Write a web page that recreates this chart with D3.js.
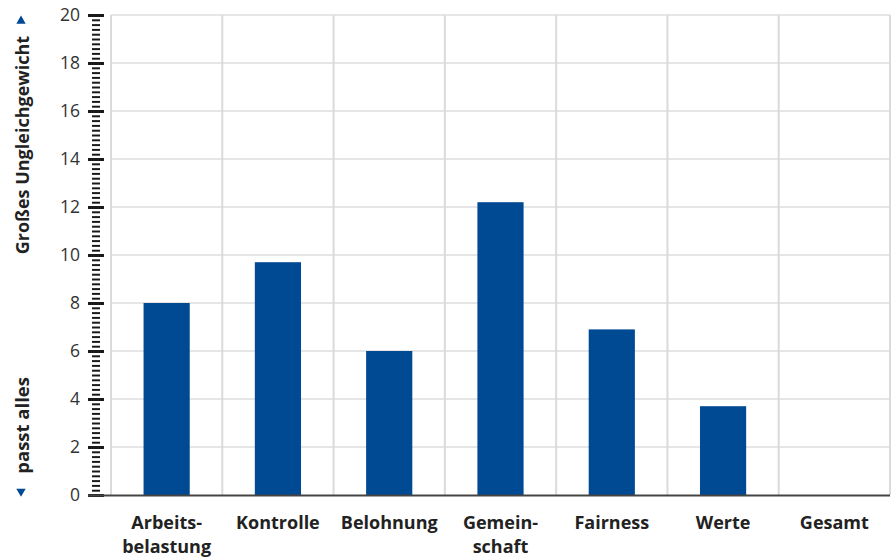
<!DOCTYPE html>
<html><head><meta charset="utf-8">
<script src="https://cdn.jsdelivr.net/npm/d3@7"></script>
<style>body{margin:0;background:#fff}svg{display:block}text{font-family:"Open Sans",sans-serif}</style>
</head><body>
<svg id="c" width="895" height="560"></svg>
<script>
const categories = [["Arbeits-","belastung"],["Kontrolle"],["Belohnung"],["Gemein-","schaft"],["Fairness"],["Werte"],["Gesamt"]];
const values = [8.0, 9.7, 6.0, 12.2, 6.9, 3.7, null];
const yTicks = [0,2,4,6,8,10,12,14,16,18,20];
const yTop = "Großes Ungleichgewicht";
const yBottom = "passt alles";

const svg = d3.select("#c");
const L = 111, R = 890, T = 15, B = 495;
const x = d3.scaleBand().domain(d3.range(categories.length)).range([L, R]).paddingInner(0).paddingOuter(0);
const y = d3.scaleLinear().domain([0, 20]).range([B, T]);

// grid
svg.append("g").selectAll("line").data(yTicks.filter(d=>d>0)).join("line")
  .attr("x1", L).attr("x2", R).attr("y1", d=>y(d)).attr("y2", d=>y(d))
  .attr("stroke", "#dedede").attr("stroke-width", 1.5);
svg.append("g").selectAll("line").data(d3.range(categories.length + 1)).join("line")
  .attr("x1", i => i < categories.length ? x(i) : R).attr("x2", i => i < categories.length ? x(i) : R)
  .attr("y1", T).attr("y2", B)
  .attr("stroke", "#dadada").attr("stroke-width", 2);

// bars
const bw = x.bandwidth() * 0.415;
svg.append("g").selectAll("rect").data(values.map((v,i)=>({v,i})).filter(d=>d.v!=null)).join("rect")
  .attr("x", d => x(d.i) + x.bandwidth()/2 - bw/2)
  .attr("width", bw)
  .attr("y", d => y(d.v))
  .attr("height", d => y(0) - y(d.v))
  .attr("fill", "#004a93");

// y axis minor/major ticks
const minor = d3.range(0, 20.001, 0.2).filter(v => Math.abs(v/2 - Math.round(v/2)) > 1e-6);
const axL = d3.axisLeft(y).tickValues(minor).tickSize(8).tickFormat("");
const gMinor = svg.append("g").attr("transform", "translate(100,0)").call(axL);
gMinor.select(".domain").remove();
gMinor.selectAll(".tick line").attr("stroke", "#1a1a1a").attr("stroke-width", 2);

const axM = d3.axisLeft(y).tickValues(yTicks).tickSize(16).tickPadding(8).tickFormat(d3.format("d"));
const gMajor = svg.append("g").attr("transform", "translate(104,0)").call(axM);
gMajor.select(".domain").remove();
gMajor.selectAll(".tick line").attr("stroke", "#1a1a1a").attr("stroke-width", 3);
gMajor.selectAll(".tick text").attr("fill", "#333").attr("font-size", 17.5).attr("font-family", '"Open Sans",sans-serif');

// baseline
svg.append("line").attr("x1", 88).attr("x2", R).attr("y1", B + 0.5).attr("y2", B + 0.5)
  .attr("stroke", "#444").attr("stroke-width", 2);

// category labels
const cl = svg.append("g").selectAll("text").data(categories).join("text")
  .attr("x", (d,i) => x(i) + x.bandwidth()/2)
  .attr("y", 529)
  .attr("text-anchor", "middle")
  .attr("font-size", 18).attr("font-weight", 700).attr("fill", "#222");
cl.each(function(d){
  const t = d3.select(this);
  d.forEach((s,j)=> t.append("tspan").attr("x", t.attr("x")).attr("dy", j ? 24 : 0).text(s));
});

// side labels
svg.append("text").attr("transform", `translate(29,${y(14.58)}) rotate(-90)`)
  .attr("text-anchor", "middle").attr("font-size", 18).attr("font-weight", 700).attr("fill", "#222").text(yTop);
svg.append("text").attr("transform", `translate(29,${y(2.9)}) rotate(-90)`)
  .attr("text-anchor", "middle").attr("font-size", 18.5).attr("font-weight", 700).attr("fill", "#222").text(yBottom);
svg.append("path").attr("d", d3.symbol(d3.symbolTriangle, 38)()).attr("transform", `translate(21,${y(19.75)})`).attr("fill", "#004a93");
svg.append("path").attr("d", d3.symbol(d3.symbolTriangle, 38)()).attr("transform", `translate(21,${y(0.15)}) rotate(180)`).attr("fill", "#004a93");
</script>
</body></html>
